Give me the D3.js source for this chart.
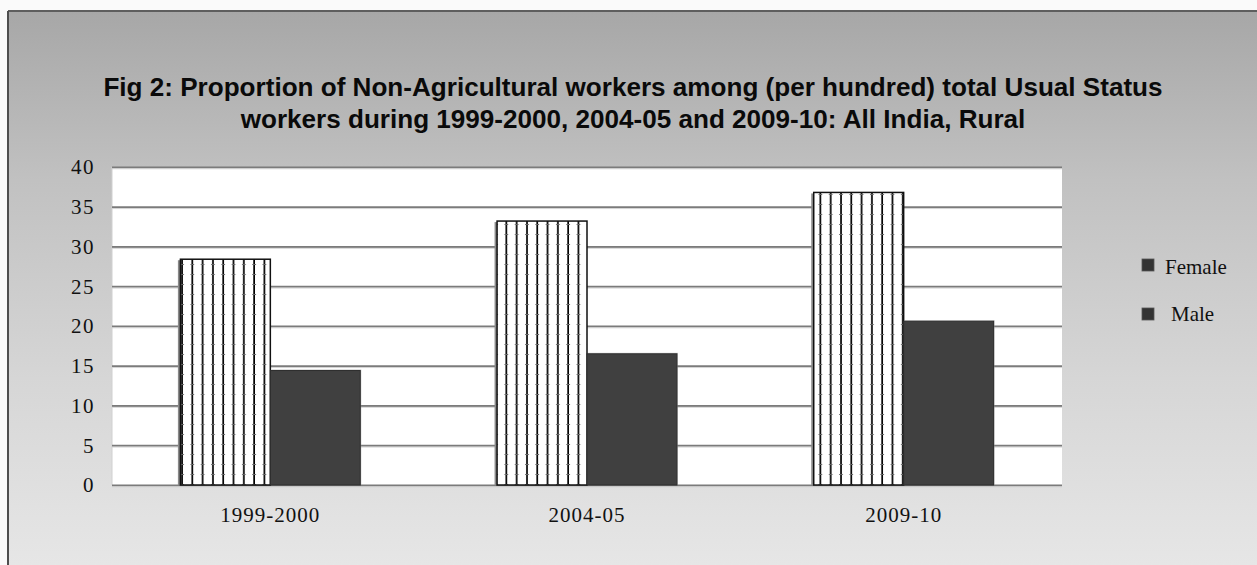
<!DOCTYPE html>
<html>
<head>
<meta charset="utf-8">
<script src="https://cdn.jsdelivr.net/npm/d3@7"></script>
<style>
  html, body { margin: 0; padding: 0; background: #fafafa; }
  svg { display: block; }
</style>
</head>
<body>
<svg id="chart" width="1257" height="565"></svg>
<script>
// Rural non-agricultural workers per hundred usual status workers
const categories = ["1999-2000", "2004-05", "2009-10"];
const seriesNames = ["Female", "Male"];
const femaleValues = [28.4, 33.2, 36.8];
const maleValues = [14.4, 16.5, 20.6];
const yTicks = [0, 5, 10, 15, 20, 25, 30, 35, 40];
const titleLines = [
  "Fig 2: Proportion of Non-Agricultural workers among (per hundred) total Usual Status",
  "workers during 1999-2000, 2004-05 and 2009-10: All India, Rural"
];

const rows = categories.map((c, i) => ({ category: c, Female: femaleValues[i], Male: maleValues[i] }));

const W = 1257, H = 565;
const plot = { left: 112, right: 1062, top: 167, bottom: 485 };

const svg = d3.select("#chart");
const defs = svg.append("defs");

// frame background gradient
const grad = defs.append("linearGradient").attr("id", "bgGrad")
  .attr("x1", 0).attr("y1", 0).attr("x2", 0).attr("y2", 1);
grad.append("stop").attr("offset", "0%").attr("stop-color", "#a7a7a7");
grad.append("stop").attr("offset", "30%").attr("stop-color", "#c1c1c1");
grad.append("stop").attr("offset", "65%").attr("stop-color", "#d6d6d6");
grad.append("stop").attr("offset", "100%").attr("stop-color", "#e7e7e7");

const frame = svg.append("g");
frame.append("rect").attr("x", 8).attr("y", 11).attr("width", W).attr("height", H)
  .attr("fill", "url(#bgGrad)");
frame.append("line").attr("x1", 8).attr("x2", W).attr("y1", 11).attr("y2", 11)
  .attr("stroke", "#5e5e5e").attr("stroke-width", 2);
frame.append("line").attr("x1", 8).attr("x2", 8).attr("y1", 11).attr("y2", H)
  .attr("stroke", "#4e4e4e").attr("stroke-width", 2);

// title, sized to span its line
const title = svg.append("g").attr("font-family", "'Liberation Sans', Arial, sans-serif")
  .attr("font-weight", "bold").attr("fill", "#0a0a0a").attr("text-anchor", "middle");
const t1 = title.append("text").attr("x", 633).attr("y", 96).attr("font-size", 20).text(titleLines[0]);
const fs = 20 * 1060 / t1.node().getComputedTextLength();
t1.attr("font-size", fs);
title.append("text").attr("x", 633).attr("y", 128).attr("font-size", fs).text(titleLines[1]);

// scales
const x0 = d3.scaleBand().domain(categories).range([plot.left, plot.right]).padding(0);
const groupW = x0.bandwidth() * 0.568;
const x1 = d3.scaleBand().domain(seriesNames).range([0, groupW]).padding(0);
const y = d3.scaleLinear().domain([0, 40]).range([plot.bottom, plot.top]);

// plot area
svg.append("rect").attr("x", plot.left).attr("y", plot.top)
  .attr("width", plot.right - plot.left).attr("height", plot.bottom - plot.top)
  .attr("fill", "#ffffff");
svg.append("line").attr("x1", plot.left).attr("x2", plot.left).attr("y1", plot.top).attr("y2", plot.bottom)
  .attr("stroke", "#d0d0d0").attr("stroke-width", 1);

// gridlines from the axis generator
const grid = svg.append("g").attr("transform", `translate(${plot.left},0)`)
  .call(d3.axisLeft(y).tickValues(yTicks).tickSize(-(plot.right - plot.left)).tickFormat(""));
grid.select(".domain").remove();
grid.selectAll(".tick line").attr("stroke", "#7b7b7b").attr("stroke-width", 2);
// soft shadow under each gridline
svg.append("g").selectAll("line").data(yTicks).join("line")
  .attr("x1", plot.left).attr("x2", plot.right)
  .attr("y1", d => y(d) + 1.8).attr("y2", d => y(d) + 1.8)
  .attr("stroke", "#d4d4d4").attr("stroke-width", 1);

// y axis labels
const yAxis = svg.append("g").attr("transform", `translate(${plot.left - 17},0)`)
  .call(d3.axisLeft(y).tickValues(yTicks).tickSize(0).tickPadding(0));
yAxis.select(".domain").remove();
yAxis.selectAll("text").attr("font-family", "'Liberation Serif', 'Times New Roman', serif")
  .attr("font-size", 21).attr("letter-spacing", 1.5).attr("fill", "#111").attr("dy", "0.33em");

// x axis labels
const xAxis = svg.append("g").attr("transform", `translate(0,${plot.bottom})`)
  .call(d3.axisBottom(x0).tickSize(0).tickPadding(0));
xAxis.select(".domain").remove();
xAxis.selectAll("text").attr("font-family", "'Liberation Serif', 'Times New Roman', serif")
  .attr("font-size", 21).attr("letter-spacing", 1).attr("fill", "#111")
  .attr("dy", 0).attr("y", 37);

// vertical-stripe fills for the Female bars, one per bar so stripes start at its edge
const period = 10.3;
rows.forEach((r, i) => {
  const bx = x0(r.category) + (x0.bandwidth() - groupW) / 2 + x1("Female");
  const p = defs.append("pattern").attr("id", "stripe" + i)
    .attr("patternUnits", "userSpaceOnUse").attr("width", period).attr("height", 10)
    .attr("patternTransform", `translate(${bx},0)`);
  p.append("rect").attr("width", period).attr("height", 10).attr("fill", "#ffffff");
  p.append("rect").attr("x", 5.8).attr("y", 0).attr("width", 1.7).attr("height", 10).attr("fill", "#000");
  p.append("rect").attr("x", 4.8).attr("y", 4).attr("width", 3.7).attr("height", 1).attr("fill", "#666");
});

const groups = svg.append("g").selectAll("g").data(rows).join("g")
  .attr("transform", d => `translate(${x0(d.category) + (x0.bandwidth() - groupW) / 2},0)`);

// Female bars: shadow then striped bar
groups.append("rect")
  .attr("x", x1("Female") - 2.5).attr("y", d => y(d.Female) + 1)
  .attr("width", 3).attr("height", d => y(0) - y(d.Female) - 1)
  .attr("fill", "#8a8a8a");
groups.append("rect")
  .attr("x", x1("Female")).attr("y", d => y(d.Female))
  .attr("width", x1.bandwidth()).attr("height", d => y(0) - y(d.Female))
  .attr("fill", (d, i) => `url(#stripe${i})`)
  .attr("stroke", "#111").attr("stroke-width", 1.5);

// Male bars
groups.append("rect")
  .attr("x", x1("Male") + 1).attr("y", d => y(d.Male) - 1)
  .attr("width", x1.bandwidth()).attr("height", d => y(0) - y(d.Male) + 1)
  .attr("fill", "#9a9a9a").attr("opacity", 0.6);
groups.append("rect")
  .attr("x", x1("Male")).attr("y", d => y(d.Male))
  .attr("width", x1.bandwidth()).attr("height", d => y(0) - y(d.Male))
  .attr("fill", "#404040").attr("stroke", "#2e2e2e").attr("stroke-width", 1);

// legend
const legendItems = [
  { name: "Female", sy: 259, tx: 1165, ty: 274 },
  { name: "Male", sy: 308, tx: 1171, ty: 321 }
];
const legend = svg.append("g");
legend.selectAll("rect").data(legendItems).join("rect")
  .attr("x", 1142).attr("y", d => d.sy).attr("width", 12).attr("height", 12)
  .attr("fill", "#333").attr("stroke", "#555").attr("stroke-width", 0.8);
legend.selectAll("text").data(legendItems).join("text")
  .attr("x", d => d.tx).attr("y", d => d.ty)
  .attr("font-family", "'Liberation Serif', 'Times New Roman', serif")
  .attr("font-size", 21).attr("fill", "#111").text(d => d.name);
</script>
</body>
</html>
